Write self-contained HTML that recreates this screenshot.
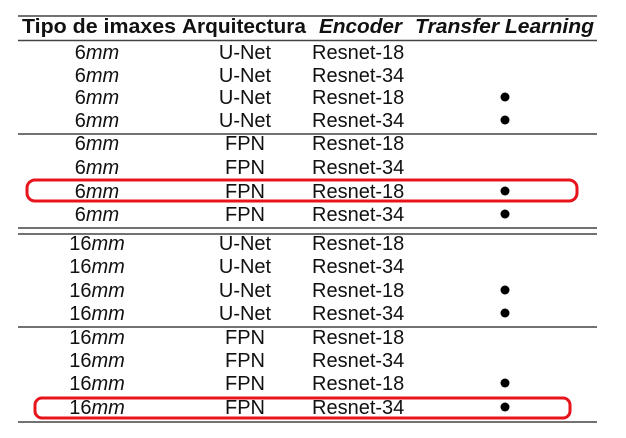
<!DOCTYPE html>
<html><head><meta charset="utf-8"><style>
html,body{margin:0;padding:0;background:#fff;}
svg{display:block;}
text{font-family:"Liberation Sans",Arial,sans-serif;font-size:20px;fill:#111;}
.b{font-weight:bold;}
.i{font-style:italic;}
</style></head><body>
<svg width="626" height="438" viewBox="0 0 626 438" xmlns="http://www.w3.org/2000/svg">
<g stroke="#444" stroke-width="1.5">
<line x1="18" y1="16" x2="597" y2="16"/>
<line x1="18" y1="40.5" x2="597" y2="40.5"/>
<line x1="18" y1="134" x2="597" y2="134"/>
<line x1="18" y1="228" x2="597" y2="228"/>
<line x1="18" y1="234" x2="597" y2="234"/>
<line x1="18" y1="327" x2="597" y2="327"/>
<line x1="18" y1="422" x2="597" y2="422"/>
</g>
<text x="22" y="33" class="b" textLength="154" lengthAdjust="spacingAndGlyphs">Tipo de imaxes</text>
<text x="182" y="33" class="b" textLength="124" lengthAdjust="spacingAndGlyphs">Arquitectura</text>
<text x="319" y="33" class="b i" textLength="83" lengthAdjust="spacingAndGlyphs">Encoder</text>
<text x="415" y="33" class="b i" textLength="179" lengthAdjust="spacingAndGlyphs">Transfer Learning</text>
<g id="rows">
<!-- rows -->
</g>
<g>
<text x="97" y="59" text-anchor="middle">6<tspan class="i">mm</tspan></text><text x="245" y="59" text-anchor="middle">U-Net</text><text x="312" y="59">Resnet-18</text>
<text x="97" y="82" text-anchor="middle">6<tspan class="i">mm</tspan></text><text x="245" y="82" text-anchor="middle">U-Net</text><text x="312" y="82">Resnet-34</text>
<text x="97" y="104" text-anchor="middle">6<tspan class="i">mm</tspan></text><text x="245" y="104" text-anchor="middle">U-Net</text><text x="312" y="104">Resnet-18</text>
<text x="97" y="127" text-anchor="middle">6<tspan class="i">mm</tspan></text><text x="245" y="127" text-anchor="middle">U-Net</text><text x="312" y="127">Resnet-34</text>
<text x="97" y="150" text-anchor="middle">6<tspan class="i">mm</tspan></text><text x="245" y="150" text-anchor="middle">FPN</text><text x="312" y="150">Resnet-18</text>
<text x="97" y="174" text-anchor="middle">6<tspan class="i">mm</tspan></text><text x="245" y="174" text-anchor="middle">FPN</text><text x="312" y="174">Resnet-34</text>
<text x="97" y="198" text-anchor="middle">6<tspan class="i">mm</tspan></text><text x="245" y="198" text-anchor="middle">FPN</text><text x="312" y="198">Resnet-18</text>
<text x="97" y="221" text-anchor="middle">6<tspan class="i">mm</tspan></text><text x="245" y="221" text-anchor="middle">FPN</text><text x="312" y="221">Resnet-34</text>
<text x="97" y="250" text-anchor="middle">16<tspan class="i">mm</tspan></text><text x="245" y="250" text-anchor="middle">U-Net</text><text x="312" y="250">Resnet-18</text>
<text x="97" y="273" text-anchor="middle">16<tspan class="i">mm</tspan></text><text x="245" y="273" text-anchor="middle">U-Net</text><text x="312" y="273">Resnet-34</text>
<text x="97" y="297" text-anchor="middle">16<tspan class="i">mm</tspan></text><text x="245" y="297" text-anchor="middle">U-Net</text><text x="312" y="297">Resnet-18</text>
<text x="97" y="320" text-anchor="middle">16<tspan class="i">mm</tspan></text><text x="245" y="320" text-anchor="middle">U-Net</text><text x="312" y="320">Resnet-34</text>
<text x="97" y="344" text-anchor="middle">16<tspan class="i">mm</tspan></text><text x="245" y="344" text-anchor="middle">FPN</text><text x="312" y="344">Resnet-18</text>
<text x="97" y="367" text-anchor="middle">16<tspan class="i">mm</tspan></text><text x="245" y="367" text-anchor="middle">FPN</text><text x="312" y="367">Resnet-34</text>
<text x="97" y="390" text-anchor="middle">16<tspan class="i">mm</tspan></text><text x="245" y="390" text-anchor="middle">FPN</text><text x="312" y="390">Resnet-18</text>
<text x="97" y="414" text-anchor="middle">16<tspan class="i">mm</tspan></text><text x="245" y="414" text-anchor="middle">FPN</text><text x="312" y="414">Resnet-34</text>
</g>
<g fill="#000">
<circle cx="505" cy="97" r="4.5"/><circle cx="505" cy="120" r="4.5"/>
<circle cx="505" cy="191" r="4.5"/><circle cx="505" cy="214" r="4.5"/>
<circle cx="505" cy="290" r="4.5"/><circle cx="505" cy="313" r="4.5"/>
<circle cx="505" cy="383" r="4.5"/><circle cx="505" cy="407" r="4.5"/>
</g>
<g fill="none" stroke="#e8141c" stroke-width="3">
<rect x="27" y="180" width="550" height="21" rx="8"/>
<rect x="35" y="398" width="535" height="20" rx="7"/>
</g>
</svg>
</body></html>
